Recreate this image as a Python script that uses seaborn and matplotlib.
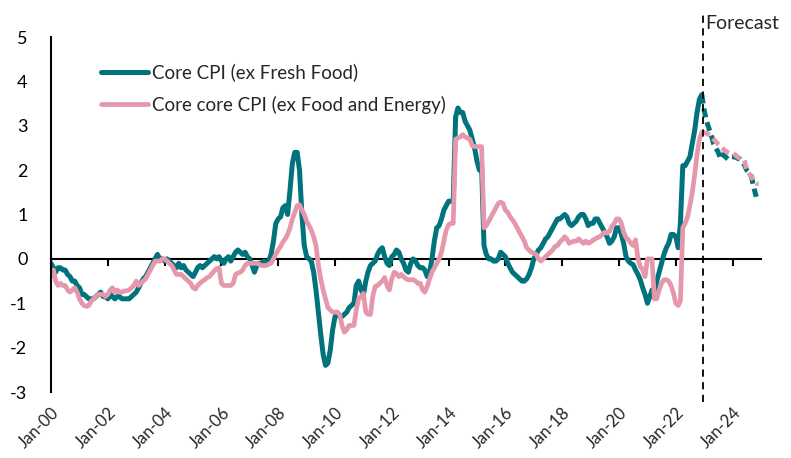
import numpy as np
import pandas as pd
import seaborn as sns
import matplotlib.pyplot as plt
import matplotlib.dates as mdates

# -----------------------------------------------------------------------------
# Data (y/y %, monthly)
# -----------------------------------------------------------------------------
core_cpi = [
    -0.1, -0.2, -0.3, -0.2, -0.2, -0.25, -0.25, -0.35, -0.4, -0.5, -0.5, -0.6,      # 2000
    -0.65, -0.8, -0.8, -0.85, -0.9, -0.9, -0.9, -0.85, -0.8, -0.75, -0.85, -0.85,   # 2001
    -0.9, -0.8, -0.85, -0.9, -0.85, -0.85, -0.9, -0.9, -0.9, -0.9, -0.85, -0.8,     # 2002
    -0.75, -0.65, -0.55, -0.45, -0.4, -0.3, -0.2, -0.1, 0.0, 0.1, 0.0, 0.0,         # 2003
    -0.05, 0.0, -0.05, -0.1, -0.15, -0.2, -0.1, -0.2, -0.15, -0.25, -0.3, -0.35,    # 2004
    -0.4, -0.3, -0.2, -0.15, -0.2, -0.15, -0.1, -0.05, 0.0, 0.05, 0.0, 0.05,        # 2005
    -0.05, -0.1, 0.0, 0.05, -0.05, 0.05, 0.15, 0.2, 0.15, 0.1, 0.15, 0.05,          # 2006
    0.0, -0.15, -0.3, -0.15, -0.1, -0.1, -0.05, -0.1, -0.05, 0.1, 0.4, 0.8,         # 2007
    0.9, 0.95, 1.15, 1.2, 1.0, 1.55, 2.15, 2.4, 2.4, 2.0, 1.0, 0.3,                 # 2008
    0.05, 0.0, -0.05, -0.3, -0.7, -1.2, -1.7, -2.15, -2.4, -2.35, -2.05, -1.6,      # 2009
    -1.3, -1.25, -1.3, -1.3, -1.25, -1.2, -1.1, -1.05, -1.0, -0.6, -0.5, -0.7,      # 2010
    -0.8, -0.5, -0.3, -0.15, -0.1, -0.05, 0.1, 0.2, 0.25, 0.05, -0.1, -0.15,        # 2011
    0.05, 0.1, 0.2, 0.15, 0.0, -0.1, -0.25, -0.3, -0.1, 0.0, -0.05, -0.15,          # 2012
    -0.2, -0.2, -0.25, -0.4, -0.3, 0.0, 0.4, 0.7, 0.75, 0.9, 1.1, 1.2,              # 2013
    1.3, 1.3, 1.3, 3.2, 3.4, 3.3, 3.3, 3.1, 3.0, 2.9, 2.7, 2.5,                     # 2014
    2.2, 2.0, 2.1, 0.3, 0.1, 0.0, 0.0, -0.05, -0.05, 0.0, 0.15, 0.1,                # 2015
    0.05, -0.1, -0.2, -0.3, -0.35, -0.4, -0.45, -0.5, -0.5, -0.45, -0.35, -0.2,     # 2016
    0.0, 0.1, 0.2, 0.25, 0.35, 0.45, 0.5, 0.6, 0.7, 0.8, 0.9, 0.9,                  # 2017
    0.95, 1.0, 0.95, 0.8, 0.75, 0.8, 0.85, 0.95, 1.0, 1.0, 0.9, 0.75,               # 2018
    0.8, 0.8, 0.9, 0.9, 0.8, 0.7, 0.6, 0.5, 0.35, 0.4, 0.5, 0.7,                    # 2019
    0.7, 0.55, 0.35, 0.05, -0.05, -0.1, -0.13, -0.25, -0.35, -0.47, -0.65, -0.8,    # 2020
    -1.0, -0.85, -0.7, -0.75, -0.5, -0.3, -0.1, 0.1, 0.25, 0.35, 0.55, 0.55,        # 2021
    0.5, 0.25, 0.8, 2.1, 2.1, 2.2, 2.3, 2.6, 2.9, 3.3, 3.6, 3.7,                    # 2022
]
core_cpi_fcst = [
    3.35, 3.1, 2.95, 2.8, 2.6, 2.5, 2.4, 2.25, 2.35, 2.3, 2.25, 2.3,                # 2023
    2.3, 2.3, 2.27, 2.25, 2.2, 2.12, 2.0, 1.95, 1.85, 1.6, 1.4,                     # 2024
]

core_core_cpi = [
    -0.4, -0.25, -0.5, -0.6, -0.55, -0.6, -0.6, -0.7, -0.75, -0.7, -0.65, -0.75,    # 2000
    -0.9, -1.0, -1.05, -1.07, -1.05, -0.95, -0.9, -0.85, -0.8, -0.8, -0.8, -0.85,   # 2001
    -0.8, -0.7, -0.65, -0.75, -0.7, -0.75, -0.75, -0.72, -0.72, -0.7, -0.65, -0.6,  # 2002
    -0.5, -0.6, -0.55, -0.5, -0.45, -0.35, -0.25, -0.15, -0.05, -0.05, -0.05, 0.0,  # 2003
    0.0, -0.05, -0.1, -0.15, -0.25, -0.35, -0.35, -0.35, -0.4, -0.45, -0.5, -0.55,  # 2004
    -0.65, -0.68, -0.6, -0.55, -0.5, -0.47, -0.42, -0.4, -0.33, -0.27, -0.22, -0.2, # 2005
    -0.55, -0.6, -0.6, -0.6, -0.6, -0.55, -0.35, -0.32, -0.3, -0.25, -0.15, -0.1,   # 2006
    -0.1, -0.1, -0.1, -0.1, -0.12, -0.15, -0.15, -0.15, -0.12, -0.1, 0.0, 0.1,      # 2007
    0.2, 0.28, 0.38, 0.45, 0.55, 0.7, 0.9, 1.05, 1.2, 1.22, 1.1, 1.0,               # 2008
    0.85, 0.75, 0.65, 0.5, 0.3, -0.15, -0.45, -0.7, -0.9, -1.1, -1.15, -1.2,        # 2009
    -1.2, -1.2, -1.25, -1.5, -1.65, -1.6, -1.5, -1.5, -1.5, -1.15, -0.9, -0.85,     # 2010
    -0.78, -1.2, -1.25, -1.25, -0.85, -0.62, -0.6, -0.55, -0.5, -0.42, -0.6, -0.7,  # 2011
    -0.45, -0.3, -0.33, -0.4, -0.35, -0.4, -0.45, -0.47, -0.47, -0.47, -0.5, -0.55, # 2012
    -0.55, -0.7, -0.75, -0.62, -0.45, -0.3, -0.2, -0.1, 0.0, 0.15, 0.4, 0.65,       # 2013
    0.77, 0.8, 0.8, 2.7, 2.72, 2.75, 2.8, 2.75, 2.72, 2.7, 2.55, 2.53,              # 2014
    2.53, 2.53, 2.53, 0.7, 0.75, 0.85, 0.95, 1.05, 1.15, 1.25, 1.28, 1.25,          # 2015
    1.1, 1.05, 0.95, 0.88, 0.8, 0.7, 0.6, 0.5, 0.4, 0.25, 0.2, 0.15,                # 2016
    0.13, 0.1, 0.0, -0.05, 0.0, 0.05, 0.1, 0.15, 0.2, 0.28, 0.3, 0.38,              # 2017
    0.43, 0.5, 0.45, 0.35, 0.38, 0.4, 0.4, 0.45, 0.4, 0.35, 0.4, 0.35,              # 2018
    0.38, 0.42, 0.45, 0.48, 0.5, 0.55, 0.6, 0.58, 0.62, 0.73, 0.8, 0.9,             # 2019
    0.9, 0.8, 0.6, 0.48, 0.43, 0.35, 0.3, 0.43, 0.0, -0.17, -0.25, -0.4,            # 2020
    0.0, 0.0, 0.0, -0.9, -0.9, -0.7, -0.55, -0.47, -0.47, -0.5, -0.6, -0.77,        # 2021
    -1.0, -1.05, -0.95, 0.7, 0.8, 0.95, 1.2, 1.5, 1.9, 2.35, 2.7, 2.85,             # 2022
]
core_core_cpi_fcst = [
    2.85, 2.83, 2.8, 2.76, 2.7, 2.64, 2.58, 2.53, 2.48, 2.43, 2.4, 2.38,            # 2023
    2.38, 2.35, 2.3, 2.27, 2.25, 2.23, 2.0, 1.92, 1.85, 1.75, 1.7, 1.7,             # 2024
]

labels = ["Core CPI (ex Fresh Food)", "Core core CPI (ex Food and Energy)"]
teal = "#00737D"
pink = "#E598AB"

# -----------------------------------------------------------------------------
# Frames
# -----------------------------------------------------------------------------
dates = pd.date_range("2000-01-01", periods=len(core_cpi), freq="MS")
df = pd.DataFrame({"date": dates, "core": core_cpi, "corecore": core_core_cpi})

# forecast frames start from the last actual month so the lines join
f1 = pd.DataFrame({"date": pd.date_range("2022-12-01", periods=len(core_cpi_fcst) + 1, freq="MS"),
                   "core": [core_cpi[-1]] + core_cpi_fcst})
f2 = pd.DataFrame({"date": pd.date_range("2022-12-01", periods=len(core_core_cpi_fcst) + 1, freq="MS"),
                   "corecore": [core_core_cpi[-1]] + core_core_cpi_fcst})

# -----------------------------------------------------------------------------
# Plot
# -----------------------------------------------------------------------------
sns.set_style("white")
plt.rcParams["font.family"] = ["Lato", "DejaVu Sans"]
plt.rcParams["axes.unicode_minus"] = False

fig = plt.figure(figsize=(7.91, 4.58), dpi=100)
ax = fig.add_axes([0.0645, 0.1441, 0.8976, 0.7751])

sns.lineplot(x="date", y="core", data=df, color=teal, linewidth=3.6, label=labels[0], ax=ax)
sns.lineplot(x="date", y="corecore", data=df, color=pink, linewidth=3.4, label=labels[1], ax=ax)
sns.lineplot(x="date", y="core", data=f1, color=teal, linewidth=3.6, linestyle=(0, (1.8, 1.0)), ax=ax)
sns.lineplot(x="date", y="corecore", data=f2, color=pink, linewidth=3.4, linestyle=(0, (1.8, 1.0)), ax=ax)

ax.set_xlim(pd.Timestamp("2000-01-01"), pd.Timestamp("2025-01-01"))
ax.set_ylim(-3, 5)
ax.set_yticks(range(-3, 6))
ax.set(xlabel=None, ylabel=None)

# forecast marker
fc = pd.Timestamp("2022-12-15")
ax.axvline(fc, ymin=-0.028, ymax=1.062, color="black", lw=1.3, ls=(0, (4, 3)), clip_on=False)
ax.text(fc + pd.Timedelta(days=30), 5.3, "Forecast", fontsize=14, va="center", ha="left")

# spines: left axis only, zero line with ticks via secondary axis
for s in ["top", "right", "bottom"]:
    ax.spines[s].set_visible(False)
ax.spines["left"].set_linewidth(1.5)
ax.spines["left"].set_color("black")
ax.tick_params(axis="y", direction="in", length=6, width=1.5, pad=17, labelsize=13, colors="black")

ax.xaxis.set_major_locator(mdates.YearLocator(2))
ax.xaxis.set_major_formatter(mdates.DateFormatter("%b-%y"))
ax.tick_params(axis="x", length=0, pad=9, labelsize=12)
for lbl in ax.get_xticklabels():
    lbl.set_rotation(45)
    lbl.set_ha("right")
    lbl.set_va("top")
    lbl.set_rotation_mode("anchor")

zero = ax.secondary_xaxis(3 / 8)
zero.xaxis.set_major_locator(mdates.YearLocator(2))
zero.set_xticklabels([])
zero.spines["bottom"].set_linewidth(1.5)
zero.spines["bottom"].set_color("black")
zero.tick_params(axis="x", direction="out", length=5, width=1.5, colors="black")

handles, labs = ax.get_legend_handles_labels()
ax.legend(handles[:2], labs[:2], loc="upper left", bbox_to_anchor=(0.07, 0.925),
          frameon=False, fontsize=13.5, handlelength=2.5, handletextpad=0.25,
          labelspacing=0.75, borderpad=0, borderaxespad=0)

plt.savefig("out.png", dpi=100)
